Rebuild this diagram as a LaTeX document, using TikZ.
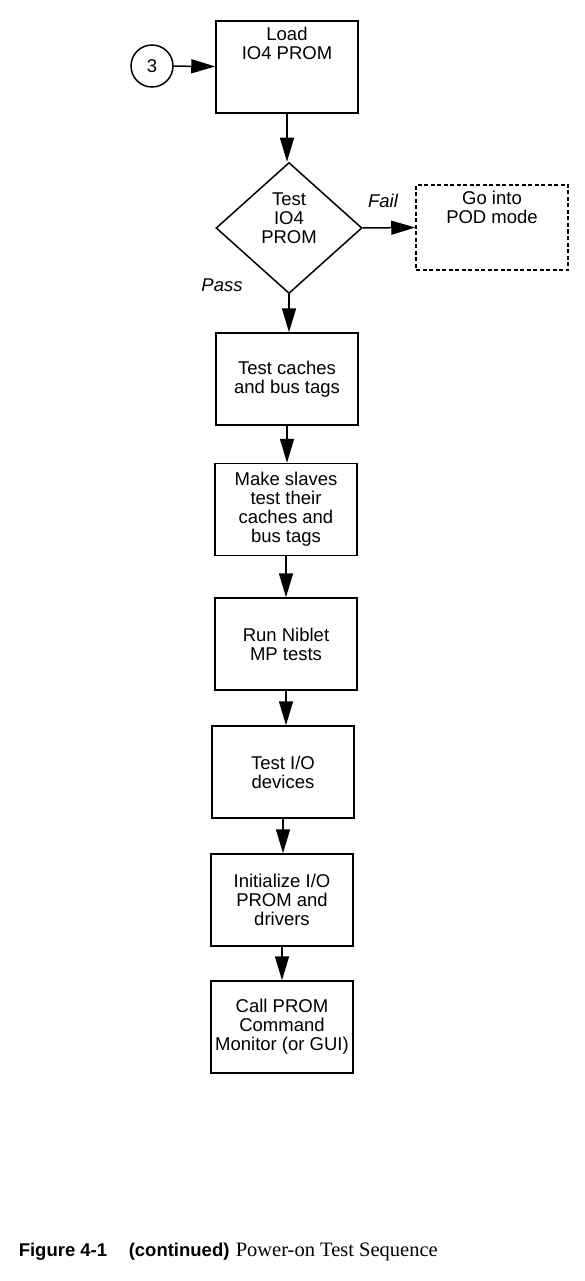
\documentclass[tikz,border=0pt]{standalone}
\usepackage{fontspec}
\setmainfont{Liberation Sans}
\newfontfamily\capserif{Liberation Serif}
\usetikzlibrary{shapes.geometric,arrows.meta}

\begin{document}
\begin{tikzpicture}[x=1pt, y=-1pt, line width=1.5pt,
  >={Triangle[length=24pt,width=14pt]},
  every node/.style={font=\fontsize{18.5}{19}\selectfont, align=center},
  stepbox/.style={draw, minimum width=142pt, minimum height=92pt, inner sep=2pt},
  testbox/.style={draw, diamond, aspect=1.11, minimum width=146pt, minimum height=131pt, inner sep=0pt},
  podbox/.style={draw, dash pattern=on 4pt off 2.5pt, minimum width=152pt, minimum height=85pt},
  topline/.style={anchor=north, yshift=-3pt},
  lbl/.style={font=\fontsize{18.5}{19}\selectfont\itshape}]
  \useasboundingbox (0,0) rectangle (585,1281);

  \node[circle, draw, minimum size=42pt, inner sep=0pt] (c3) at (152,66) {3};
  \node[stepbox, label={[topline]north:{Load\\IO4 PROM}}] (load) at (287,67) {};
  \node[testbox, label={[yshift=10pt]center:{Test\\IO4\\PROM}}] (test) at (289,228) {};
  \node[podbox, label={[topline]north:{Go into\\POD mode}}] (pod) at (492,227.5) {};
  \node[stepbox] (caches) at (287,379) {Test caches\\and bus tags};
  \node[stepbox] (slaves) at (286,509.5) {Make slaves\\test their\\caches and\\bus tags};
  \node[stepbox] (niblet) at (286,644) {Run Niblet\\MP tests};
  \node[stepbox] (io) at (283,772) {Test I/O\\devices};
  \node[stepbox] (init) at (282,900) {Initialize I/O\\PROM and\\drivers};
  \node[stepbox] (call) at (282,1027) {Call PROM\\Command\\Monitor (or GUI)};

  \node[lbl] (fail) at (383,201) {Fail};
  \node[lbl] (pass) at (222,285) {Pass};

  \draw[->] (c3) -- (load);
  \draw[->] (load.south) -- (load.south |- test.north);
  \draw[->] (test.east) -- (pod.west);
  \draw[->] (test.south) -- (test.south |- caches.north);
  \draw[->] (caches.south) -- (caches.south |- slaves.north);
  \draw[->] (slaves.south) -- (slaves.south |- niblet.north);
  \draw[->] (niblet.south) -- (niblet.south |- io.north);
  \draw[->] (io.south) -- (io.south |- init.north);
  \draw[->] (init.south) -- (init.south |- call.north);

  \node[anchor=base west, inner sep=0pt] (fig) at (18,1256) {\bfseries Figure 4-1};
  \node[anchor=base west, inner sep=0pt] (cont) at (128,1256) {\bfseries (continued)};
  \node[anchor=base west, inner sep=0pt, font=\fontsize{20.5}{22}\capserif] (title) at (235,1256) {Power-on Test Sequence};
\end{tikzpicture}
\end{document}
